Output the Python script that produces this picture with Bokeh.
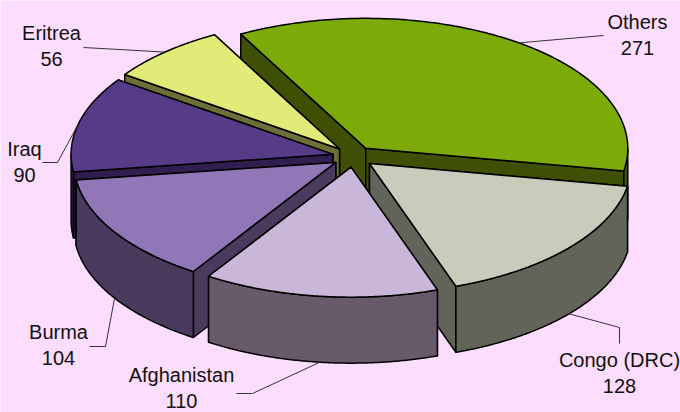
import numpy as np
from bokeh.embed import file_html
from bokeh.models import Range1d
from bokeh.plotting import figure
from bokeh.resources import INLINE

# ---- data, in the order the slices run clockwise from the start angle
categories = ["Others", "Congo (DRC)", "Afghanistan", "Burma", "Iraq", "Eritrea"]
values = [271, 128, 110, 104, 90, 56]

# ---- styles
top_colors = ["#7CAB09", "#C9CCBB", "#C9B6D8", "#9176B8", "#573B89", "#E3EB78"]
side_colors = ["#3F5005", "#62645A", "#685A6A", "#4A3A5D", "#2F1E4E", "#6B6F38"]
BG = "#FDDDFD"

# ---- 3-D pie geometry, in the reference's 680x412 picture units
CX, CY = 353, 156.3
A, B = 262, 130
DEPTH = 66
EXPLODE = 21
START_DEG = -28.5
PAINT_ORDER = [0, 5, 4, 3, 1, 2]  # back to front

# ---- label layout, same order as categories
elbows = [
    [(603, 35)],
    [(619, 327), (619, 343)],
    [(252, 393), (236, 393)],
    [(105, 346), (89, 346)],
    [(57, 162), (42, 162)],
    [(83, 47)],
]
label_x = [637, 619, 181, 58, 24, 51]
label_y = [21, 359, 374, 331, 148, 32]
LINE_GAP = 26
FONT_SIZE = "20px"

p = figure(width=680, height=412, output_backend="svg", toolbar_location=None,
           x_range=Range1d(0, 680), y_range=Range1d(412, 0), min_border=0,
           background_fill_color=BG, border_fill_color=BG, outline_line_color=None)
p.axis.visible = False
p.grid.visible = False


def rim(ax, ay, deg):
    a = np.radians(deg)
    return ax + A * np.sin(a), ay - B * np.cos(a)


total = sum(values)
spans = [v / total * 360 for v in values]
starts = START_DEG + np.concatenate([[0], np.cumsum(spans)[:-1]])
ends = starts + np.array(spans)
mids = (starts + ends) / 2
apex_x = CX + EXPLODE * np.sin(np.radians(mids))
apex_y = CY - EXPLODE * B / A * np.cos(np.radians(mids))

xs, ys, fills = [], [], []
for i in PAINT_ORDER:
    ax, ay, s, e = apex_x[i], apex_y[i], starts[i], ends[i]
    # the two cut faces, the one further back first
    for d in sorted((s, e), key=lambda deg: rim(ax, ay, deg)[1]):
        rx, ry = rim(ax, ay, d)
        xs.append([ax, rx, rx, ax])
        ys.append([ay, ry, ry + DEPTH, ay + DEPTH])
        fills.append(side_colors[i])
    # the outer wall: only the part of the rim that faces the viewer
    w0, w1 = max(s, 90), min(e, 270)
    if w1 > w0:
        ang = np.linspace(w0, w1, 120)
        rx, ry = rim(ax, ay, ang)
        xs.append(list(rx) + list(rx[::-1]))
        ys.append(list(ry) + list((ry + DEPTH)[::-1]))
        fills.append(side_colors[i])
    # the top face
    ang = np.linspace(s, e, 160)
    rx, ry = rim(ax, ay, ang)
    xs.append([ax] + list(rx))
    ys.append([ay] + list(ry))
    fills.append(top_colors[i])

p.patches(xs, ys, fill_color=fills, line_color="black", line_width=1.5, line_join="round")

# leader lines start on the rim at each slice's mid angle
for i, pts in enumerate(elbows):
    sx, sy = rim(apex_x[i], apex_y[i], mids[i])
    if np.cos(np.radians(mids[i])) < 0:
        sy += DEPTH
    p.line([sx] + [q[0] for q in pts], [sy] + [q[1] for q in pts],
           line_color="#333333", line_width=1)

common = dict(text_align="center", text_baseline="middle", text_color="#111111",
              text_font_size=FONT_SIZE, text_font={"value": "Liberation Sans"})
p.text(label_x, label_y, text=categories, **common)
p.text(label_x, [y + LINE_GAP for y in label_y], text=[str(v) for v in values], **common)

open("out.html", "w").write(file_html(p, INLINE))
